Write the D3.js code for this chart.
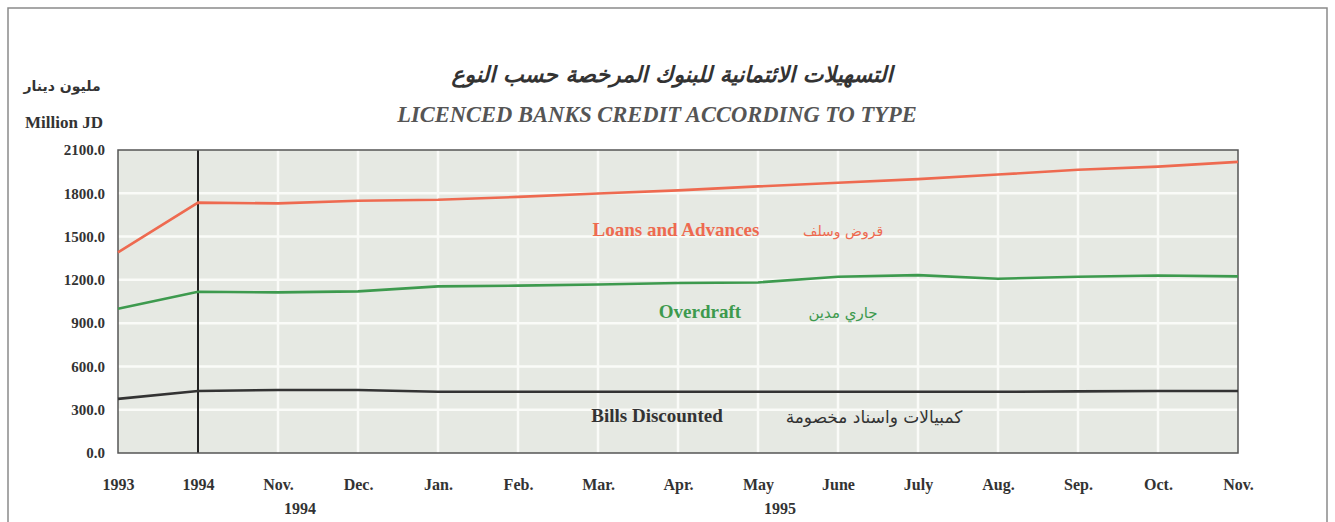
<!DOCTYPE html>
<html>
<head>
<meta charset="utf-8">
<script src="https://cdn.jsdelivr.net/npm/d3@7"></script>
<style>
  body { margin: 0; background: #fff; }
  svg { display: block; }
</style>
</head>
<body>
<svg id="chart"></svg>
<script>
// categories on the x axis
var months = ["1993", "1994", "Nov.", "Dec.", "Jan.", "Feb.", "Mar.", "Apr.", "May", "June", "July", "Aug.", "Sep.", "Oct.", "Nov."]
var yearLabels = [{ idx: 2, text: "1994" }, { idx: 8, text: "1995" }]

// series (million JD)
var loans = [1390, 1735, 1730, 1748, 1755, 1775, 1798, 1820, 1848, 1873, 1898, 1930, 1963, 1985, 2018]
var overdraft = [1000, 1118, 1113, 1120, 1155, 1160, 1168, 1178, 1182, 1222, 1233, 1208, 1222, 1230, 1224]
var bills = [375, 430, 437, 437, 424, 424, 424, 424, 424, 424, 424, 424, 427, 430, 430]

var yTicks = [0, 300, 600, 900, 1200, 1500, 1800, 2100]

var dimensions = {
  width: 1335,
  height: 522,
  margin: { top: 150, bottom: 69, right: 97, left: 118 }
}
dimensions.boundedWidth = dimensions.width - dimensions.margin.left - dimensions.margin.right
dimensions.boundedHeight = dimensions.height - dimensions.margin.top - dimensions.margin.bottom

var serif = "'Liberation Serif', 'Times New Roman', serif"
var arabic = "'DejaVu Sans', sans-serif"

var svg = d3.select("#chart")
  .attr("width", dimensions.width)
  .attr("height", dimensions.height)

// outer frame
svg.append("path")
  .attr("d", "M8,522 V8 H1327 V522")
  .attr("fill", "none")
  .attr("stroke", "#8a8a8a")
  .attr("stroke-width", 1.5)

var bounds = svg.append("g")
  .attr("transform", "translate(" + dimensions.margin.left + "," + dimensions.margin.top + ")")

var xScale = d3.scalePoint()
  .domain(d3.range(months.length))
  .range([0, dimensions.boundedWidth])

var yScale = d3.scaleLinear()
  .domain([0, 2100])
  .range([dimensions.boundedHeight, 0])

// plot background
bounds.append("rect")
  .attr("width", dimensions.boundedWidth)
  .attr("height", dimensions.boundedHeight)
  .attr("fill", "#e6e9e3")

// grid
bounds.selectAll(".hgrid")
  .data(yTicks.slice(1, -1))
  .enter()
  .append("line")
  .attr("x1", 0)
  .attr("x2", dimensions.boundedWidth)
  .attr("y1", function (d) { return yScale(d) })
  .attr("y2", function (d) { return yScale(d) })
  .attr("stroke", "#fafbf8")
  .attr("stroke-width", 2.5)

bounds.selectAll(".vgrid")
  .data(d3.range(2, months.length - 1))
  .enter()
  .append("line")
  .attr("x1", function (d) { return xScale(d) })
  .attr("x2", function (d) { return xScale(d) })
  .attr("y1", 0)
  .attr("y2", dimensions.boundedHeight)
  .attr("stroke", "#fafbf8")
  .attr("stroke-width", 2.5)

// separator at 1994
bounds.append("line")
  .attr("x1", xScale(1))
  .attr("x2", xScale(1))
  .attr("y1", 0)
  .attr("y2", dimensions.boundedHeight)
  .attr("stroke", "#222")
  .attr("stroke-width", 2)

// plot border
bounds.append("rect")
  .attr("width", dimensions.boundedWidth)
  .attr("height", dimensions.boundedHeight)
  .attr("fill", "none")
  .attr("stroke", "#555")
  .attr("stroke-width", 1.5)

// lines
var series = [
  { values: loans, color: "#ee6a50", en: "Loans and Advances", ar: "قروض وسلف", enX: 676, arX: 843, y: 1535, arSize: 14 },
  { values: overdraft, color: "#3d9a4e", en: "Overdraft", ar: "جاري مدين", enX: 700, arX: 843, y: 968, arSize: 15 },
  { values: bills, color: "#333333", en: "Bills Discounted", ar: "كمبيالات واسناد مخصومة", enX: 657, arX: 874, y: 242, arSize: 17 }
]

var line = d3.line()
  .x(function (d, i) { return xScale(i) })
  .y(function (d) { return yScale(d) })

bounds.selectAll(".series")
  .data(series)
  .enter()
  .append("path")
  .attr("d", function (d) { return line(d.values) })
  .attr("fill", "none")
  .attr("stroke", function (d) { return d.color })
  .attr("stroke-width", 2.6)

// series labels
series.forEach(function (s) {
  svg.append("text")
    .attr("x", s.enX)
    .attr("y", dimensions.margin.top + yScale(s.y))
    .attr("text-anchor", "middle")
    .attr("dominant-baseline", "middle")
    .style("font-family", serif)
    .style("font-weight", "bold")
    .style("font-size", "19px")
    .style("fill", s.color)
    .text(s.en)
  svg.append("text")
    .attr("x", s.arX)
    .attr("y", dimensions.margin.top + yScale(s.y))
    .attr("text-anchor", "middle")
    .attr("dominant-baseline", "middle")
    .attr("direction", "rtl")
    .style("font-family", arabic)
    .style("font-size", s.arSize + "px")
    .style("fill", s.color)
    .text(s.ar)
})

// y axis
var yAxis = bounds.append("g")
  .call(d3.axisLeft(yScale).tickValues(yTicks).tickFormat(d3.format(".1f")).tickSize(0).tickPadding(13))
yAxis.select(".domain").remove()
yAxis.selectAll("text")
  .style("font-family", serif)
  .style("font-weight", "bold")
  .style("font-size", "15px")
  .style("fill", "#333")

// x axis
var xAxis = bounds.append("g")
  .attr("transform", "translate(0," + dimensions.boundedHeight + ")")
  .call(d3.axisBottom(xScale).tickFormat(function (i) { return months[i] }).tickSize(0).tickPadding(26))
xAxis.select(".domain").remove()
xAxis.selectAll("text")
  .style("font-family", serif)
  .style("font-weight", "bold")
  .style("font-size", "16px")
  .style("fill", "#333")

bounds.selectAll(".yearLabel")
  .data(yearLabels)
  .enter()
  .append("text")
  .attr("x", function (d) { return xScale(d.idx) + 22 })
  .attr("y", dimensions.boundedHeight + 61)
  .attr("text-anchor", "middle")
  .style("font-family", serif)
  .style("font-weight", "bold")
  .style("font-size", "16px")
  .style("fill", "#333")
  .text(function (d) { return d.text })

// unit labels
svg.append("text")
  .attr("x", 62).attr("y", 91)
  .attr("text-anchor", "middle")
  .attr("direction", "rtl")
  .style("font-family", arabic)
  .style("font-weight", "bold")
  .style("font-size", "14px")
  .style("fill", "#333")
  .text("مليون دينار")

svg.append("text")
  .attr("x", 64).attr("y", 128)
  .attr("text-anchor", "middle")
  .style("font-family", serif)
  .style("font-weight", "bold")
  .style("font-size", "17px")
  .style("fill", "#333")
  .text("Million JD")

// titles
svg.append("text")
  .attr("x", 672).attr("y", 82)
  .attr("text-anchor", "middle")
  .attr("direction", "rtl")
  .style("font-family", arabic)
  .style("font-weight", "bold")
  .style("font-style", "italic")
  .style("font-size", "22px")
  .style("fill", "#333")
  .text("التسهيلات الائتمانية للبنوك المرخصة حسب النوع")

svg.append("text")
  .attr("x", 657).attr("y", 122)
  .attr("text-anchor", "middle")
  .style("font-family", serif)
  .style("font-style", "italic")
  .style("font-weight", "bold")
  .style("font-size", "22.5px")
  .style("fill", "#555")
  .text("LICENCED BANKS CREDIT ACCORDING TO TYPE")
</script>
</body>
</html>
